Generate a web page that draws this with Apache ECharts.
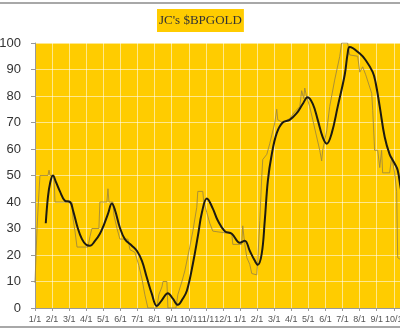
<!DOCTYPE html>
<html>
<head>
<meta charset="utf-8">
<script src="https://cdn.jsdelivr.net/npm/echarts@6/dist/echarts.min.js"></script>
<style>
  html, body { margin: 0; padding: 0; background: #fff; }
  #chart { width: 400px; height: 333px; }
</style>
</head>
<body>
<div id="chart"></div>
<script>
// Month tick labels (x = months since the first Jan 1)
const monthLabels = ['1/1','2/1','3/1','4/1','5/1','6/1','7/1','8/1','9/1','10/1','11/1','12/1',
                     '1/1','2/1','3/1','4/1','5/1','6/1','7/1','8/1','9/1','10/1','11/1','12/1','1/1'];
const yTicks = [0, 10, 20, 30, 40, 50, 60, 70, 80, 90, 100];

// Raw $BPGOLD readings: [month offset, value]
const rawMonths = [0, 0.06, 0.12, 0.2, 0.29, 0.76, 0.82, 0.88, 1.11, 1.17, 2.16, 2.22, 2.34, 2.46, 3.1, 3.22, 3.33,
  3.74, 3.8, 4.21, 4.27, 4.33, 4.56, 4.62, 4.8, 4.97, 5.44, 5.56, 5.85, 5.96, 6.08, 6.26, 6.43, 6.61, 7.13,
  7.25, 7.43, 7.49, 7.72, 7.78, 8.25, 8.36, 8.6, 8.77, 9.06, 9.24, 9.47, 9.53, 9.82, 9.88, 10.06, 10.23,
  10.41, 11.52, 11.58, 12.1, 12.16, 12.28, 12.4, 12.57, 12.69, 12.98, 13.04, 13.16, 13.27, 13.33, 13.57,
  13.74, 14.04, 14.15, 14.21, 14.5, 14.91, 15.2, 15.5, 15.61, 15.73, 15.79, 15.91, 16.08, 16.26, 16.49,
  16.67, 16.78, 16.84, 17.08, 17.25, 17.54, 17.84, 17.95, 18.3, 18.42, 18.89, 19.01, 19.18, 19.36, 19.71,
  19.77, 19.88, 20.06, 20.18, 20.29, 20.35, 20.76, 20.88, 20.99, 21.05, 21.17, 21.23, 21.46];
const rawValues = [9.5, 20, 30, 40, 50, 50, 52, 50, 50, 40, 40, 34, 29, 23, 23, 27, 30,
  30, 40, 40, 45, 40, 40, 35, 30, 26, 26, 22, 21, 21, 16, 11, 5, 0, 0,
  5, 8, 10, 10, 0, 0, 5, 10, 14, 23, 29, 38, 44, 44, 40, 36, 32,
  29, 28, 24, 24, 31, 24, 19, 16.5, 13, 12.5, 18, 33, 49, 56, 58,
  62, 70, 75, 71, 70, 71.5, 74, 76, 82, 79, 83, 79.5, 76, 71, 64.5,
  59.5, 55.5, 59.5, 67, 76, 86, 95, 100, 100, 95.5, 95, 89, 91, 88, 81,
  74.5, 59.5, 59.5, 53, 59.5, 51, 51, 57, 57, 51, 44, 19, 18];

// Smoothed $BPGOLD: [month offset, value]
const smoothMonths = [0.63, 0.76, 0.88, 1.05, 1.23, 1.46, 1.75, 2.05, 2.22, 2.51, 2.75, 2.98, 3.22, 3.51, 3.8,
  4.04, 4.27, 4.5, 4.68, 4.97, 5.26, 5.67, 5.96, 6.26, 6.55, 6.84, 7.13, 7.43, 7.78, 8.07, 8.36, 8.65,
  8.89, 9.24, 9.53, 9.77, 10.06, 10.41, 10.7, 11.11, 11.52, 11.99, 12.28, 12.57, 12.87, 13.04, 13.27,
  13.45, 13.63, 13.86, 14.15, 14.5, 14.91, 15.32, 15.67, 15.96, 16.26, 16.55, 16.84, 17.08, 17.37,
  17.72, 18.13, 18.3, 18.42, 19.01, 19.36, 19.77, 19.94, 20.18, 20.47, 20.76, 21.05, 21.23, 21.4, 21.64];
const smoothValues = [32, 42, 47, 50, 47.5, 44, 40.5, 40, 37, 30, 26, 24, 23.5, 25.3, 28,
  31.5, 35.5, 39.4, 37, 30.3, 26, 23.5, 21.6, 17.8, 11.4, 5.3, 0.8, 3, 5.6, 3.5, 1.2, 3.5,
  6.5, 16.6, 27, 36, 41.3, 37.5, 33, 29, 28, 24.6, 25.4, 21.6, 17.8, 16.3, 20.4,
  33, 48, 58, 66, 70, 71, 73.5, 77, 79.5, 77, 71, 64.5, 62, 66,
  76, 88, 96, 98.5, 96, 93.5, 89, 85, 76, 64.5, 58, 54.5, 52, 45.5, 38];

const pair = (xs, ys) => xs.map((x, i) => [x, ys[i]]);

const chart = echarts.init(document.getElementById('chart'), null, { renderer: 'canvas' });

chart.setOption({
  backgroundColor: '#ffffff',
  animation: false,
  title: {
    text: "JC's $BPGOLD",
    left: 157,
    top: 9,
    padding: [5, 2, 5, 2],
    backgroundColor: '#ffcc00',
    textStyle: { fontFamily: 'Liberation Serif', fontSize: 13, fontWeight: 'normal', color: '#333333' }
  },
  grid: {
    left: 35,
    top: 43,
    width: 410,
    height: 265,
    outerBoundsMode: 'none',
    containLabel: false,
    show: true,
    backgroundColor: '#ffcc00',
    borderWidth: 0
  },
  xAxis: {
    type: 'value',
    min: 0,
    max: 24,
    interval: 1,
    axisLine: { show: true, lineStyle: { color: '#999999', width: 1 } },
    axisTick: { show: true, length: 3, lineStyle: { color: '#999999' } },
    axisLabel: {
      margin: 7,
      fontFamily: 'Liberation Sans',
      fontSize: 9,
      color: '#555555',
      hideOverlap: false,
      formatter: v => monthLabels[Math.round(v)] || ''
    },
    splitLine: { show: true, lineStyle: { color: 'rgba(255,255,255,0.55)', width: 1 } }
  },
  yAxis: {
    type: 'value',
    min: yTicks[0],
    max: yTicks[yTicks.length - 1],
    interval: 10,
    axisLine: { show: true, lineStyle: { color: '#999999', width: 1 } },
    axisTick: { show: true, length: 4, lineStyle: { color: '#999999' } },
    axisLabel: {
      margin: 14,
      fontFamily: 'Liberation Sans',
      fontSize: 13,
      color: '#333333'
    },
    splitLine: { show: true, lineStyle: { color: 'rgba(255,255,255,0.55)', width: 1 } }
  },
  series: [
    {
      name: 'raw',
      type: 'line',
      data: pair(rawMonths, rawValues),
      showSymbol: false,
      lineStyle: { color: '#a38a3a', width: 1, opacity: 0.9 },
      z: 2
    },
    {
      name: 'smoothed',
      type: 'line',
      data: pair(smoothMonths, smoothValues),
      smooth: 0.4,
      showSymbol: false,
      lineStyle: { color: '#1c1a12', width: 2 },
      z: 3
    }
  ],
  graphic: [
    { type: 'rect', shape: { x: 0, y: 2, width: 400, height: 2 }, style: { fill: '#a8a8a8' }, silent: true },
    { type: 'rect', shape: { x: 0, y: 326, width: 400, height: 2 }, style: { fill: '#a8a8a8' }, silent: true }
  ]
});
</script>
</body>
</html>
